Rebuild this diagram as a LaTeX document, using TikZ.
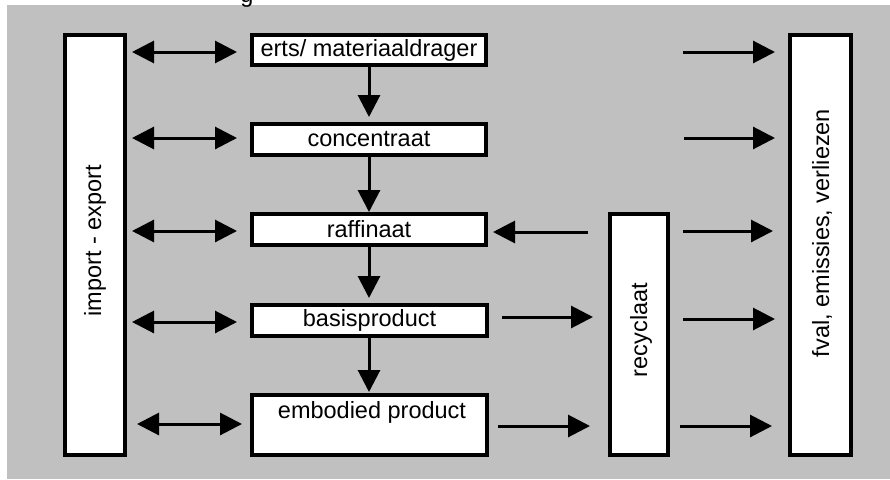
\documentclass[tikz,border=0pt]{standalone}
\usepackage{fontspec}
\setmainfont{Liberation Sans}
\usetikzlibrary{arrows.meta,calc}
\definecolor{bg}{HTML}{C0C0C0}
\begin{document}
\begin{tikzpicture}[x=1pt,y=-1pt,
  lbl/.style={font=\fontsize{23.5}{28}\selectfont,inner sep=0pt},
  box/.style={draw=black,line width=4pt,fill=white,inner sep=0pt,lbl},
  arr/.style={line width=3pt,-{Triangle[length=22pt,width=22pt]}},
  darr/.style={line width=3pt,{Triangle[length=22pt,width=22pt]}-{Triangle[length=22pt,width=22pt]}}]
\useasboundingbox (0,0) rectangle (890,479);
\fill[white] (0,0) rectangle (890,479);
\fill[bg] (7,5) rectangle (890,479);
\node[lbl,anchor=base] (gtxt) at (247,2) {g};

% boxes
\node[box,minimum width=60pt,minimum height=420pt] (ie) at (95,245) {};
\node[lbl,rotate=90] (ietxt) at (95,241) {import - export};
\node[box,minimum width=234pt,minimum height=30pt] (erts) at (369,50) {erts/ materiaaldrager};
\node[box,minimum width=234pt,minimum height=31pt] (conc) at (369,139.5) {concentraat};
\node[box,minimum width=234pt,minimum height=31pt] (raff) at (369,229.5) {raffinaat};
\node[box,minimum width=235pt,minimum height=31pt] (basis) at (369.5,320.5) {basisproduct};
\node[box,minimum width=235pt,minimum height=60pt] (emb) at (369.5,425) {};
\node[lbl] (embtxt) at (372,412) {embodied product};
\node[box,minimum width=58pt,minimum height=241pt] (recy) at (639,334.5) {};
\node[lbl,rotate=90] (recytxt) at (641,330) {recyclaat};
\node[box,minimum width=61pt,minimum height=420pt] (afval) at (820.5,245) {};
\node[lbl,rotate=90] (afvaltxt) at (822,233) {fval, emissies, verliezen};

% vertical flow
\draw[arr,shorten >=5pt] (erts.south) -- (erts.south |- conc.north);
\draw[arr] (conc.south) -- (conc.south |- raff.north);
\draw[arr,shorten >=5pt] (raff.south) -- (raff.south |- basis.north);
\draw[arr,shorten >=1pt] (raff.south |- basis.south) -- (raff.south |- emb.north);

% import - export
\draw[darr,shorten <=5pt,shorten >=13pt] (ie.east |- 0,52) -- (erts.west |- 0,52);
\draw[darr,shorten <=5pt,shorten >=13pt] (ie.east |- 0,138) -- (conc.west |- 0,138);
\draw[darr,shorten <=5pt,shorten >=13pt] (ie.east |- 0,231) -- (raff.west |- 0,231);
\draw[darr,shorten <=5pt,shorten >=13pt] (ie.east |- 0,322) -- (basis.west |- 0,322);
\draw[darr,shorten <=10pt,shorten >=8pt] (ie.east |- 0,424) -- (emb.west |- 0,424);

% recycling
\draw[arr,shorten <=20pt,shorten >=5pt] (recy.west |- 0,232) -- (raff.east |- 0,232);
\draw[arr,shorten <=13pt,shorten >=15pt] (basis.east |- 0,317) -- (recy.west |- 0,317);
\draw[arr,shorten <=9pt,shorten >=18pt] (emb.east |- 0,426) -- (recy.west |- 0,426);

% losses
\coordinate (l1) at (683,52);
\coordinate (l2) at (684,138);
\draw[arr,shorten >=13pt] (l1) -- (afval.west |- l1);
\draw[arr,shorten >=13pt] (l2) -- (afval.west |- l2);
\draw[arr,shorten <=13pt,shorten >=15pt] (recy.east |- 0,231) -- (afval.west |- 0,231);
\draw[arr,shorten <=13pt,shorten >=13pt] (recy.east |- 0,319) -- (afval.west |- 0,319);
\draw[arr,shorten <=10pt,shorten >=16pt] (recy.east |- 0,426) -- (afval.west |- 0,426);
\end{tikzpicture}
\end{document}
